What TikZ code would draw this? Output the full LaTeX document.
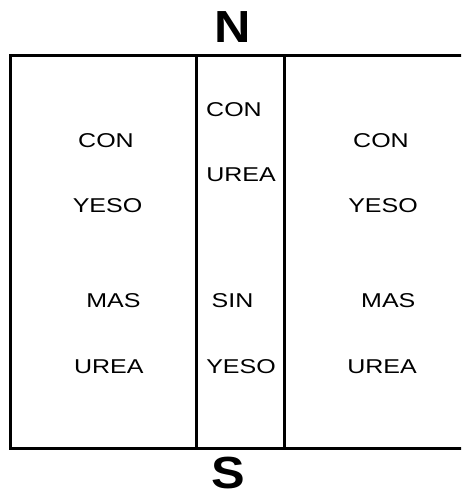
\documentclass[tikz,border=0pt]{standalone}
\usepackage{fontspec}
\setmainfont{Liberation Sans}
\newfontfamily\widefont[FakeStretch=1.25]{Liberation Sans}
\newfontfamily\compfont[FakeStretch=1.12]{Liberation Sans}
\begin{document}
\begin{tikzpicture}[x=1pt,y=-1pt,
  lbl/.style={anchor=base,inner sep=0pt,font=\widefont\fontsize{20}{20}\selectfont},
  pole/.style={anchor=base,inner sep=0pt,text depth=0pt,font=\compfont\bfseries\fontsize{45}{45}\selectfont},
  wall/.style={line width=3pt,line cap=rect}]
\useasboundingbox (0,0) rectangle (461,495);
\clip (0,0) rectangle (461,495);
% outer frame (right side runs past the picture edge)
\coordinate (tl) at (10,56);
\coordinate (bl) at (10,448);
\coordinate (tr) at (470,56);
\coordinate (br) at (470,448);
\draw[wall] (tr) -- (tl) -- (bl) -- (br);
% inner dividers
\coordinate (d1t) at (196.7,56);
\coordinate (d1b) at (196.7,448);
\coordinate (d2t) at (284,56);
\coordinate (d2b) at (284,448);
\draw[wall] (d1t) -- (d1b);
\draw[wall] (d2t) -- (d2b);
% poles
\node[pole] (N) at (232.5,43) {N};
\node[pole] (S) at (228,488.5) {S};
% left column
\node[lbl] (l1) at (106,147) {CON};
\node[lbl] (l2) at (107.5,212.5) {YESO};
\node[lbl] (l3) at (113.5,307) {MAS};
\node[lbl] (l4) at (108.8,373) {UREA};
% middle column
\node[lbl] (m1) at (234,116) {CON};
\node[lbl] (m2) at (241,181.5) {UREA};
\node[lbl] (m3) at (232.5,307) {SIN};
\node[lbl] (m4) at (241,373) {YESO};
% right column
\node[lbl] (r1) at (381,147) {CON};
\node[lbl] (r2) at (383,212.5) {YESO};
\node[lbl] (r3) at (388.3,307) {MAS};
\node[lbl] (r4) at (382,373) {UREA};
\end{tikzpicture}
\end{document}
